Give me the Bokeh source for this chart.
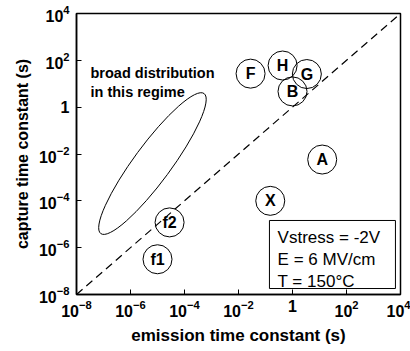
from bokeh.plotting import figure
from bokeh.models import FixedTicker
from bokeh.core.properties import value
from bokeh.embed import file_html
from bokeh.resources import INLINE

# Trap time constants (emission, capture) in seconds
trap_names = ["F", "H", "G", "B", "A", "X", "f2", "f1"]
emission_s = [0.028, 0.43, 3.4, 1.0, 12.6, 0.15, 2.8e-5, 1.0e-5]
capture_s = [27.0, 60.0, 26.0, 4.7, 0.0058, 1.0e-4, 1.2e-5, 3.2e-7]

# Axis range and decade ticks
axis_min = 1e-8
axis_max = 1e4
tick_values = [1e-8, 1e-6, 1e-4, 1e-2, 1.0, 1e2, 1e4]

# Centre of the broad-distribution region
region_center = (6.5e-6, 3.9e-3)

# Stress conditions
conditions = ["Vstress = -2V", "E = 6 MV/cm", "T = 150°C"]

FONT = "Liberation Sans"

p = figure(width=410, height=351, x_axis_type="log", y_axis_type="log",
           x_range=(axis_min, axis_max), y_range=(axis_min, axis_max),
           output_backend="svg", toolbar_location=None,
           min_border_left=76, min_border_right=10,
           min_border_top=13, min_border_bottom=57)
p.background_fill_color = "white"
p.border_fill_color = "white"
p.grid.visible = False
p.outline_line_color = "black"
p.outline_line_width = 1.5

for ax in (p.xaxis[0], p.yaxis[0]):
    ax.ticker = FixedTicker(ticks=tick_values)
    ax.major_label_overrides = {1: "1"}
    ax.major_tick_in = 5
    ax.major_tick_out = 0
    ax.minor_tick_in = 0
    ax.minor_tick_out = 0
    ax.axis_line_width = 1.5
    ax.major_tick_line_width = 1
    ax.major_label_text_font = FONT
    ax.major_label_text_font_style = "bold"
    ax.major_label_text_font_size = "16px"
    ax.major_label_text_color = "black"
    ax.axis_label_text_font = FONT
    ax.axis_label_text_font_style = "bold"
    ax.axis_label_text_color = "black"

p.xaxis.axis_label = "emission time constant (s)"
p.yaxis.axis_label = "capture time constant (s)"
p.xaxis.axis_label_text_font_size = "17px"
p.yaxis.axis_label_text_font_size = "16px"
p.xaxis.major_label_standoff = 5
p.yaxis.major_label_standoff = 7
p.xaxis.axis_label_standoff = 6
p.yaxis.axis_label_standoff = 5

# emission = capture reference line
p.line([axis_min, axis_max], [axis_min, axis_max], line_color="black",
       line_width=1.2, line_dash="8 5")

# broad distribution region
p.ellipse(x=[region_center[0]], y=[region_center[1]], width=174, height=37,
          angle=0.935, width_units="screen", height_units="screen",
          fill_color=None, line_color="black", line_width=1)

p.text(x=[3.3e-8, 3.3e-8], y=[27.5, 4.66],
       text=["broad distribution", "in this regime"],
       text_font=value(FONT), text_font_style="bold", text_font_size="14.5px",
       text_baseline="alphabetic", text_align="left", text_color="black")

# individual traps
p.scatter(emission_s, capture_s, marker="circle", size=29,
          fill_color=None, line_color="black", line_width=1)
p.text(emission_s, capture_s, text=trap_names, text_font=value(FONT),
       text_font_style="bold", text_font_size="16px", text_align="center",
       text_baseline="middle", text_color="black")

# stress-condition box
p.quad(left=[0.14], right=[6500.0], bottom=[1.8e-8], top=[1.45e-5],
       fill_color="white", line_color="black", line_width=1)
p.text(x=[0.28] * 3, y=[2.72e-6, 3.12e-7, 3.6e-8], text=conditions,
       text_font=value(FONT), text_font_size="17px", text_align="left",
       text_baseline="alphabetic", text_color="black")

open("out.html", "w").write(file_html(p, INLINE))
